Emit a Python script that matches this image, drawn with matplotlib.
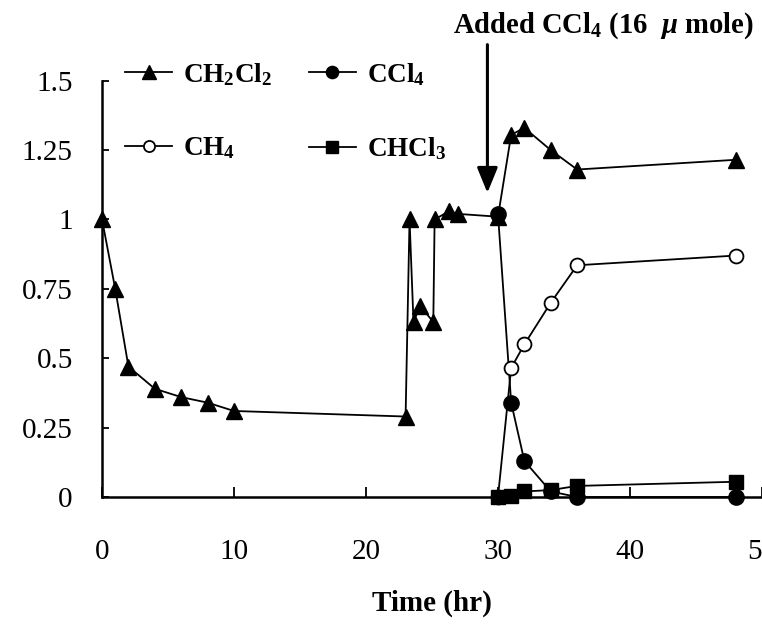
import matplotlib
matplotlib.use('Agg')
import matplotlib.pyplot as plt

# data (time in hr, normalised amount)
t_ch2cl2 = [0, 1, 2, 4, 6, 8, 10, 23, 23.3, 23.6, 24.1, 25.1, 25.2, 26.3, 27, 30, 31, 32, 34, 36, 48]
ch2cl2 = [1.0, 0.75, 0.47, 0.39, 0.36, 0.34, 0.31, 0.29, 1.0, 0.63, 0.69, 0.63, 1.0, 1.03, 1.02, 1.01,
          1.305, 1.33, 1.25, 1.18, 1.215]

t_ccl4 = [30, 31, 32, 34, 36, 48]
ccl4 = [1.02, 0.34, 0.13, 0.02, 0.0, 0.0]

t_ch4 = [30, 31, 32, 34, 36, 48]
ch4 = [0.0, 0.465, 0.55, 0.70, 0.835, 0.87]

t_chcl3 = [30, 31, 32, 34, 36, 48]
chcl3 = [0.0, 0.005, 0.02, 0.025, 0.04, 0.055]

yticks = [0, 0.25, 0.5, 0.75, 1, 1.25, 1.5]
yticklabels = ['0', '0.25', '0.5', '0.75', '1', '1.25', '1.5']
xticks = [0, 10, 20, 30, 40, 50]

plt.rcParams['font.family'] = ['Liberation Serif', 'DejaVu Serif']
plt.rcParams['mathtext.fontset'] = 'custom'
plt.rcParams['mathtext.rm'] = 'Liberation Serif:bold'
plt.rcParams['mathtext.bf'] = 'Liberation Serif:bold'
plt.rcParams['mathtext.it'] = 'Liberation Serif:italic:bold'

fig = plt.figure(figsize=(7.62, 6.35), dpi=100)
ax = fig.add_axes([0.1339, 0.2173, 0.866, 0.6556])

lw = 1.3
l1, = ax.plot(t_ch2cl2, ch2cl2, color='black', lw=lw, marker='^', ms=12, label=r'CH$_2$Cl$_2$', clip_on=False)
l2, = ax.plot(t_ccl4, ccl4, color='black', lw=lw, marker='o', ms=11, label=r'CCl$_4$', clip_on=False)
l3, = ax.plot(t_ch4, ch4, color='black', lw=lw, marker='o', ms=10, mfc='white', mew=1.3,
              label=r'CH$_4$', clip_on=False)
l4, = ax.plot(t_chcl3, chcl3, color='black', lw=lw, marker='s', ms=10.5, label=r'CHCl$_3$', clip_on=False)

ax.set_xlim(0, 50)
ax.set_ylim(0, 1.5)
ax.spines['top'].set_visible(False)
ax.spines['right'].set_visible(False)
ax.spines['left'].set_linewidth(1.8)
ax.spines['bottom'].set_linewidth(1.8)

ax.set_yticks(yticks)
ax.set_yticklabels(yticklabels)
ax.set_xticks(xticks)
ax.tick_params(axis='y', direction='in', length=5, width=1.3, pad=21, labelsize=21)
ax.tick_params(axis='x', direction='in', length=7, width=1.3, pad=30, labelsize=21)
for lab in ax.get_xticklabels():
    lab.set_clip_on(False)

ax.set_xlabel('Time (hr)', fontsize=21, fontweight='bold', labelpad=18)

# arrow marking the CCl4 addition
ax.annotate('', xy=(29.2, 1.096), xytext=(29.2, 1.63), annotation_clip=False,
            arrowprops=dict(arrowstyle='-|>,head_length=1.1,head_width=0.45', lw=2.2, color='black',
                            shrinkA=0, shrinkB=0, mutation_scale=14))
ax.text(38.0, 1.70, r'Added CCl$_4$ (16  $\mu$ mole)', fontsize=20.6, fontweight='bold',
        ha='center', va='center', clip_on=False)

ax.legend([l1, l3, l2, l4], [l1.get_label(), l3.get_label(), l2.get_label(), l4.get_label()],
          ncol=2, frameon=False, loc='upper left', bbox_to_anchor=(0.164, 0.904),
          bbox_transform=fig.transFigure, prop={'weight': 'bold', 'size': 19.5},
          handlelength=1.75, handletextpad=0.4, columnspacing=1.35, labelspacing=1.75,
          markerscale=0.8, borderpad=0.0, borderaxespad=0.0)

fig.savefig('out.png', dpi=100)
